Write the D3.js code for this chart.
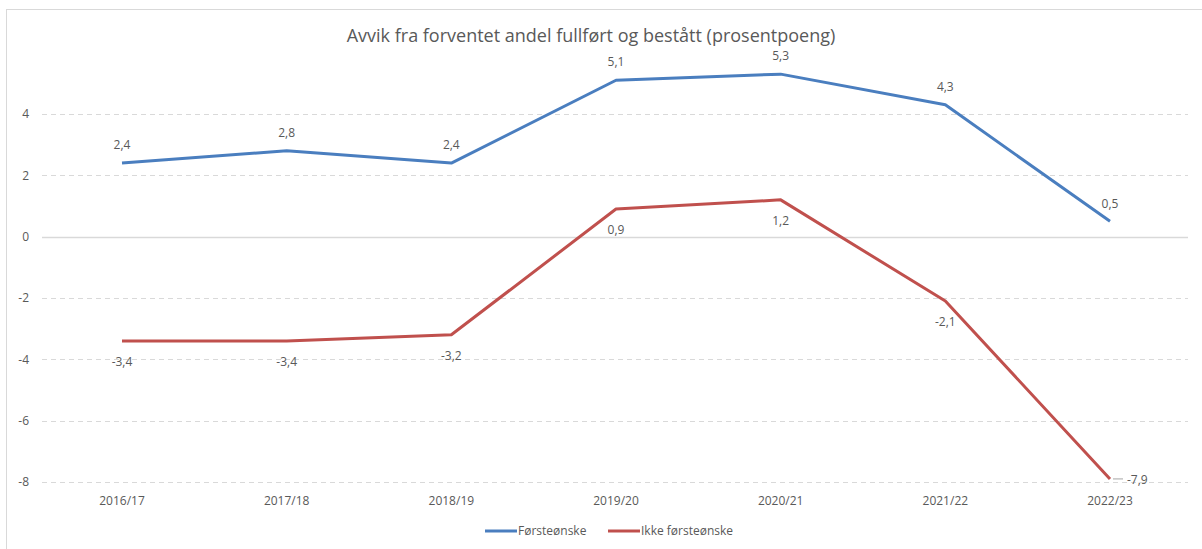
<!DOCTYPE html>
<html lang="no">
<head>
  <meta charset="UTF-8">
  <title>Avvik fra forventet andel fullført og bestått</title>
  <script src="https://cdn.jsdelivr.net/npm/d3@7/dist/d3.min.js"></script>
  <style>
    body { margin: 0; background: #fff; }
    text { font-family: "Open Sans", "Liberation Sans", sans-serif; fill: #595959; }
  </style>
</head>
<body>
  <svg width="1202" height="549"></svg>
<script>
  // data
  const years = ['2016/17', '2017/18', '2018/19', '2019/20', '2020/21', '2021/22', '2022/23'];
  const forsteonske = [2.4, 2.8, 2.4, 5.1, 5.3, 4.3, 0.5];
  const ikkeForsteonske = [-3.4, -3.4, -3.2, 0.9, 1.2, -2.1, -7.9];
  const yTicks = [-8, -6, -4, -2, 0, 2, 4];
  const seriesNames = ['Førsteønske', 'Ikke førsteønske'];
  const seriesColors = ['#4a7ebf', '#c0504d'];

  const svg = d3.select('svg');
  const fmt = v => String(v).replace('.', ',');

  // chart border
  svg.append('rect')
    .attr('x', 6.5).attr('y', 9.5)
    .attr('width', 1202).attr('height', 560)
    .attr('fill', '#fff')
    .attr('stroke', '#d9d9d9');

  const x = d3.scalePoint().domain(years).range([122, 1110]);
  const y = d3.scaleLinear().domain([-8, 4]).range([482, 114]);

  // gridlines
  svg.append('g')
    .selectAll('line')
    .data(yTicks)
    .join('line')
    .attr('x1', 42).attr('x2', 1188)
    .attr('y1', d => Math.round(y(d)) + 0.5)
    .attr('y2', d => Math.round(y(d)) + 0.5)
    .attr('stroke', '#d9d9d9')
    .attr('stroke-width', d => d === 0 ? 1.5 : 1)
    .attr('stroke-dasharray', d => d === 0 ? null : '5,4');

  // y tick labels
  svg.append('g')
    .selectAll('text')
    .data(yTicks)
    .join('text')
    .attr('x', 29)
    .attr('y', d => y(d))
    .attr('dy', '0.35em')
    .attr('text-anchor', 'end')
    .attr('font-size', 12)
    .text(d => d);

  // x tick labels
  svg.append('g')
    .selectAll('text')
    .data(years)
    .join('text')
    .attr('x', d => x(d))
    .attr('y', 501)
    .attr('dy', '0.35em')
    .attr('text-anchor', 'middle')
    .attr('font-size', 12)
    .text(d => d);

  // title
  svg.append('text')
    .attr('x', 591)
    .attr('y', 36)
    .attr('dy', '0.35em')
    .attr('text-anchor', 'middle')
    .attr('font-size', 18)
    .text('Avvik fra forventet andel fullført og bestått (prosentpoeng)');

  const line = d3.line()
    .x((d, i) => x(years[i]))
    .y(d => y(d));

  const allSeries = [forsteonske, ikkeForsteonske];

  svg.append('g')
    .selectAll('path')
    .data(allSeries)
    .join('path')
    .attr('d', line)
    .attr('fill', 'none')
    .attr('stroke', (d, i) => seriesColors[i])
    .attr('stroke-width', 3)
    .attr('stroke-linejoin', 'round');

  // labels: blue above, red below (last red to the right with leader)
  svg.append('g')
    .selectAll('text')
    .data(forsteonske)
    .join('text')
    .attr('x', (d, i) => x(years[i]))
    .attr('y', d => y(d) - 18)
    .attr('dy', '0.35em')
    .attr('text-anchor', 'middle')
    .attr('font-size', 12)
    .text(fmt);

  const last = ikkeForsteonske.length - 1;
  svg.append('g')
    .selectAll('text')
    .data(ikkeForsteonske)
    .join('text')
    .attr('x', (d, i) => i === last ? x(years[i]) + 17 : x(years[i]))
    .attr('y', (d, i) => i === last ? y(d) + 1 : y(d) + 21)
    .attr('dy', '0.35em')
    .attr('text-anchor', (d, i) => i === last ? 'start' : 'middle')
    .attr('font-size', 12)
    .text(fmt);

  svg.append('line')
    .attr('x1', x(years[last]) + 3)
    .attr('x2', x(years[last]) + 13)
    .attr('y1', y(ikkeForsteonske[last]))
    .attr('y2', y(ikkeForsteonske[last]))
    .attr('stroke', '#a6a6a6')
    .attr('stroke-width', 1);

  // legend
  const legendX = [485, 608];
  const legend = svg.append('g')
    .selectAll('g')
    .data(seriesNames)
    .join('g')
    .attr('transform', (d, i) => `translate(${legendX[i]},531)`);

  legend.append('line')
    .attr('x1', 0).attr('x2', 32)
    .attr('stroke', (d, i) => seriesColors[i])
    .attr('stroke-width', 3);

  legend.append('text')
    .attr('x', 33)
    .attr('dy', '0.35em')
    .attr('font-size', 12)
    .text(d => d);
</script>
</body>
</html>
